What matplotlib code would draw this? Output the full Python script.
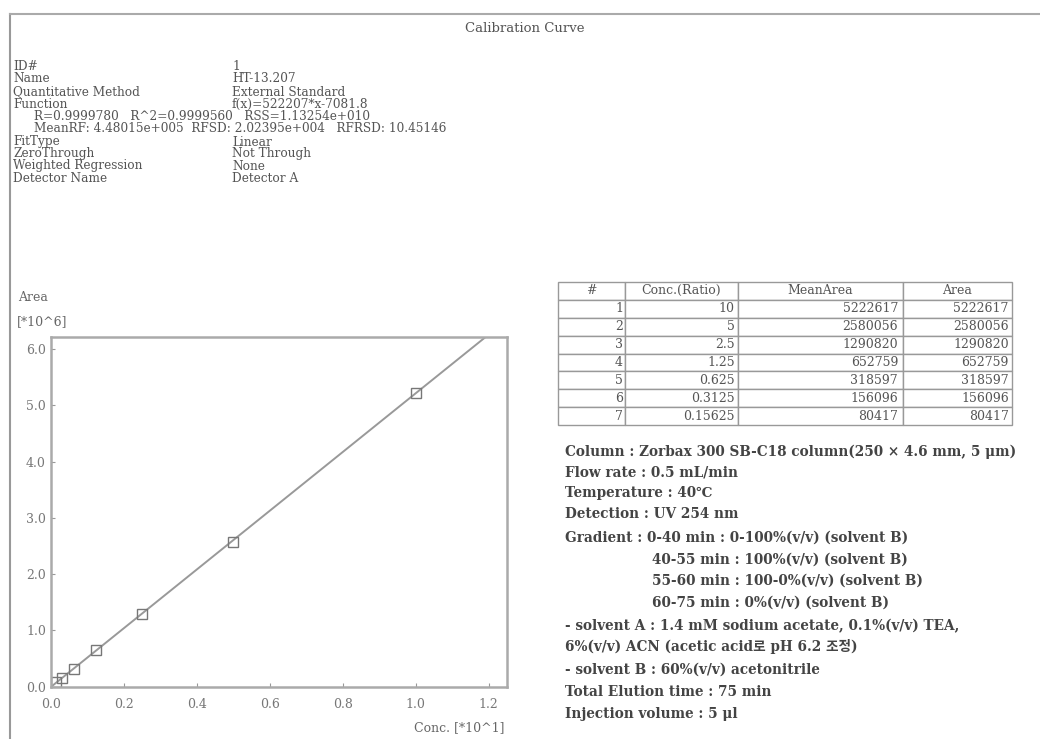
import numpy as np
import matplotlib
matplotlib.use("Agg")
import matplotlib.pyplot as plt

# calibration data
conc = [10, 5, 2.5, 1.25, 0.625, 0.3125, 0.15625]
mean_area = [5222617, 2580056, 1290820, 652759, 318597, 156096, 80417]
area = [5222617, 2580056, 1290820, 652759, 318597, 156096, 80417]
slope = 522207
intercept = -7081.8

info_keys = ["ID#", "Name", "Quantitative Method", "Function", "", "",
             "FitType", "ZeroThrough", "Weighted Regression", "Detector Name"]
info_vals = ["1", "HT-13.207", "External Standard", "f(x)=522207*x-7081.8", "", "",
             "Linear", "Not Through", "None", "Detector A"]
stat_lines = ["R=0.9999780   R^2=0.9999560   RSS=1.13254e+010",
              "MeanRF: 4.48015e+005  RFSD: 2.02395e+004   RFRSD: 10.45146"]

cond_lines = [
    "Column : Zorbax 300 SB-C18 column(250 × 4.6 mm, 5 μm)",
    "Flow rate : 0.5 mL/min",
    "Temperature : 40℃",
    "Detection : UV 254 nm",
    "Gradient : 0-40 min : 0-100%(v/v) (solvent B)",
    "40-55 min : 100%(v/v) (solvent B)",
    "55-60 min : 100-0%(v/v) (solvent B)",
    "60-75 min : 0%(v/v) (solvent B)",
    "- solvent A : 1.4 mM sodium acetate, 0.1%(v/v) TEA,",
    "6%(v/v) ACN (acetic acid로 pH 6.2 조정)",
    "- solvent B : 60%(v/v) acetonitrile",
    "Total Elution time : 75 min",
    "Injection volume : 5 μl",
]
cond_indent = [0, 0, 0, 0, 0, 1, 1, 1, 0, 0, 0, 0, 0]

fonts = ["DejaVu Serif", "Noto Sans CJK KR", "DejaVu Sans"]
W, H = 1040, 739
fig = plt.figure(figsize=(W / 100, H / 100), dpi=100)

def px(x, y):
    return x / W, 1 - y / H

# frame lines
fig.add_artist(plt.Line2D([10 / W, 10 / W], [0, 1 - 14 / H], color="#999999", lw=1.5))
fig.add_artist(plt.Line2D([10 / W, 1], [1 - 14 / H, 1 - 14 / H], color="#aaaaaa", lw=1.5))
fig.text(*px(525, 28), "Calibration Curve", ha="center", va="center",
         fontsize=9.5, family=fonts, color="#555555")

# info block
ys = [66, 79, 92, 104, 117, 129, 142, 154, 166, 179]
for k, v, y in zip(info_keys, info_vals, ys):
    if k:
        fig.text(*px(13, y), k, va="center", fontsize=8.7, family=fonts, color="#555555")
        fig.text(*px(232, y), v, va="center", fontsize=8.7, family=fonts, color="#555555")
fig.text(*px(34, 117), stat_lines[0], va="center", fontsize=8.7, family=fonts, color="#555555")
fig.text(*px(34, 129), stat_lines[1], va="center", fontsize=8.7, family=fonts, color="#555555")

# calibration plot
ax = fig.add_axes([50.7 / W, 1 - 686.7 / H, 456.3 / W, 350 / H])
x = np.array(conc) / 10
y = np.array(area) / 1e6
xl = np.array([0, 1.25])
ax.plot(xl, (slope * xl * 10 + intercept) / 1e6, color="#999999", lw=1.4)
ax.plot(x, y, ls="none", marker="s", ms=7, mfc="none", mec="#777777", mew=1)
ax.set_xlim(0, 1.25)
ax.set_ylim(0, 6.22)
ax.set_xticks(np.arange(0, 1.21, 0.2))
ax.set_yticks(np.arange(0, 6.1, 1.0))
ax.xaxis.set_major_formatter(matplotlib.ticker.FormatStrFormatter("%.1f"))
ax.yaxis.set_major_formatter(matplotlib.ticker.FormatStrFormatter("%.1f"))
ax.tick_params(direction="in", length=3, colors="#999999", labelcolor="#777777", labelsize=9)
ax.tick_params(axis="x", pad=8)
for lab in ax.get_xticklabels() + ax.get_yticklabels():
    lab.set_family(fonts)
for s in ax.spines.values():
    s.set_color("#aaaaaa")
    s.set_linewidth(1.8)
fig.text(*px(18, 297), "Area", va="center", fontsize=9, family=fonts, color="#666666")
fig.text(*px(17, 322), "[*10^6]", va="center", fontsize=9, family=fonts, color="#666666")
fig.text(*px(505, 728), "Conc. [*10^1]", ha="right", va="center", fontsize=9,
         family=fonts, color="#666666")

# table
tax = fig.add_axes([558 / W, 1 - 425 / H, 454 / W, 143 / H])
tax.axis("off")
cells = [[str(i + 1), f"{c:g}", str(m), str(a)]
         for i, (c, m, a) in enumerate(zip(conc, mean_area, area))]
tbl = tax.table(cellText=cells, colLabels=["#", "Conc.(Ratio)", "MeanArea", "Area"],
                colWidths=[67, 113, 165, 109], cellLoc="right", loc="center",
                bbox=[0, 0, 1, 1])
tbl.auto_set_font_size(False)
for (r, c), cell in tbl.get_celld().items():
    cell.set_edgecolor("#999999")
    cell.set_linewidth(1.0)
    cell.get_text().set_fontsize(9)
    cell.get_text().set_family(fonts)
    cell.get_text().set_color("#555555")
    cell.PAD = 0.03
    if r == 0:
        cell.get_text().set_ha("center")

# conditions
cy = [452, 472, 493, 514, 538, 560, 581, 603, 626, 647, 670, 692, 714]
for t, ind, yy in zip(cond_lines, cond_indent, cy):
    fig.text(*px(565 + 87 * ind, yy), t, va="center", fontsize=9.8, family=fonts,
             color="#444444", weight="bold")

fig.savefig("out.png", dpi=100)
